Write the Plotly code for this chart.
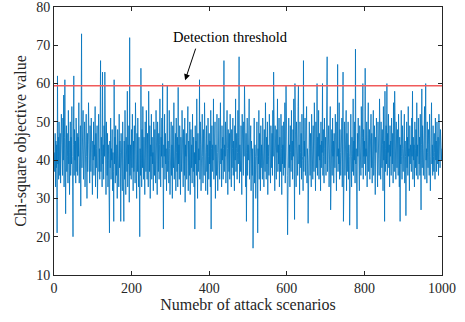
import plotly.graph_objects as go

values = [
    42, 37, 47, 33, 45, 38, 44, 21, 62, 39, 46, 35, 50, 41, 36, 47, 34, 44, 52, 38,
    43, 36, 51, 40, 57, 33, 46, 61, 38, 26, 44, 49, 37, 47, 41, 34, 53, 39, 45, 31,
    42, 50, 36, 46, 39, 54, 41, 33, 20, 44, 62, 36, 48, 40, 45, 34, 51, 42, 37, 47,
    36, 46, 41, 55, 34, 44, 39, 49, 28, 43, 73, 38, 47, 42, 53, 35, 45, 40, 50, 33,
    43, 38, 52, 41, 30, 47, 37, 44, 55, 39, 42, 34, 49, 43, 37, 51, 41, 46, 31, 45,
    40, 50, 36, 44, 41, 54, 33, 47, 38, 43, 49, 30, 45, 40, 52, 37, 43, 35, 48, 66,
    37, 46, 41, 33, 63, 39, 44, 35, 49, 41, 63, 37, 43, 31, 50, 42, 36, 47, 33, 44,
    40, 28, 21, 45, 38, 51, 35, 43, 40, 48, 32, 42, 37, 24, 61, 39, 46, 34, 49, 41,
    36, 44, 30, 48, 40, 43, 33, 52, 38, 45, 42, 24, 47, 37, 44, 32, 50, 39, 41, 24,
    45, 35, 53, 40, 31, 46, 42, 37, 58, 33, 44, 39, 49, 29, 72, 36, 44, 41, 35, 48,
    38, 52, 41, 32, 45, 37, 49, 43, 34, 55, 40, 44, 30, 47, 37, 51, 41, 33, 46, 39,
    20, 43, 36, 64, 41, 33, 48, 38, 54, 42, 35, 46, 39, 31, 50, 43, 37, 53, 41, 35,
    47, 40, 33, 58, 43, 37, 49, 30, 44, 41, 52, 35, 46, 39, 42, 32, 50, 43, 36, 48,
    41, 34, 53, 39, 45, 31, 50, 42, 37, 47, 35, 44, 56, 40, 33, 46, 41, 51, 38, 60,
    36, 22, 44, 41, 52, 35, 47, 39, 43, 32, 50, 59.6, 37, 45, 40, 34, 53, 43, 31, 46,
    40, 50, 36, 44, 30, 49, 41, 38, 55, 35, 43, 40, 47, 32, 51, 42, 37, 46, 33, 59,
    39, 44, 35, 49, 41, 31, 46, 43, 37, 53, 40, 45, 33, 48, 42, 36, 51, 29, 44, 41,
    47, 35, 43, 39, 54, 32, 45, 41, 36, 50, 31, 43, 48, 38, 44, 34, 52, 40, 37, 46,
    33, 42, 22, 49, 39, 45, 36, 56, 41, 30, 47, 37, 43, 40, 61, 35, 50, 44, 32, 43,
    38, 52, 41, 34, 48, 43, 36, 55, 40, 46, 32, 42, 49, 37, 44, 31, 51, 41, 35, 47,
    39, 45, 33, 53, 22, 43, 49, 37, 44, 40, 56, 35, 46, 40, 50, 30, 44, 41, 36, 52,
    42, 32, 47, 38, 51, 40, 35, 45, 55, 39, 43, 33, 49, 40, 46, 35, 43, 66, 37, 44,
    41, 50, 34, 46, 39, 53, 43, 31, 48, 41, 37, 47, 35, 52, 40, 44, 33, 48, 38, 43,
    51, 36, 45, 41, 32, 49, 40, 56, 37, 43, 47, 35, 42, 53, 39, 46, 67, 34, 44, 40,
    37, 49, 43, 31, 52, 40, 45, 36, 50, 41, 59.5, 38, 44, 33, 47, 24, 42, 51, 36, 44,
    40, 46, 56, 35, 43, 39, 49, 32, 45, 41, 36, 43, 17, 48, 38, 51, 34, 44, 41, 30,
    46, 37, 50, 41, 21, 43, 39, 53, 35, 47, 42, 32, 49, 38, 44, 41, 35, 51, 40, 45,
    33, 48, 43, 37, 55, 41, 35, 46, 39, 50, 31, 44, 41, 36, 52, 40, 45, 34, 49, 43,
    38, 47, 36, 53, 41, 63, 37, 43, 32, 49, 40, 45, 35, 48, 42, 56, 37, 44, 39, 51,
    33, 46, 41, 37, 52, 43, 31, 49, 39, 44, 36, 50, 41, 38, 55, 34, 45, 59.5, 40, 43,
    36, 20.5, 47, 41, 51, 38, 44, 33, 49, 42, 37, 53, 40, 45, 35, 48, 41, 56, 39, 24.5,
    60, 37, 43, 33, 50, 41, 46, 36, 54, 59.5, 39, 44, 31, 50, 42, 38, 47, 35, 52, 41,
    40, 32, 66, 37, 45, 41, 51, 36, 46, 39, 54, 34, 43, 40, 23.5, 48, 38, 50, 43, 36,
    47, 41, 33, 52, 39, 45, 35, 49, 42, 37, 55, 40, 44, 32, 50, 43, 38, 60, 36, 46,
    41, 53, 35, 47, 40, 44, 32, 50, 38, 45, 42, 60, 36, 48, 41, 34, 51, 43, 39, 46,
    36, 50, 41, 67, 37, 44, 40, 49, 33, 46, 42, 54, 27, 43, 39, 48, 36, 51, 41, 45,
    34, 47, 43, 38, 52, 40, 45, 32, 50, 41, 65, 37, 43, 39, 55, 35, 48, 42, 36, 46,
    41, 51, 33, 44, 63, 24, 45, 39, 50, 36, 43, 40, 53, 32, 47, 42, 37, 50, 35, 44,
    41, 23, 48, 38, 52, 41, 33, 46, 43, 37, 56, 36, 45, 40, 50, 34, 69, 39, 43, 36,
    22, 47, 41, 51, 37, 44, 32, 49, 40, 43, 36, 54, 42, 38, 46, 60, 35, 48, 41, 45,
    39, 64, 36, 43, 41, 50, 33, 46, 40, 55, 37, 43, 48, 35, 44, 41, 52, 38, 47, 34,
    45, 41, 53, 36, 43, 49, 39, 31, 46, 42, 51, 37, 44, 33, 50, 41, 43, 36, 56, 40,
    46, 35, 50, 41, 38, 48, 44, 32, 54, 40, 45, 24, 58, 37, 43, 49, 39, 60, 36, 47,
    42, 52, 38, 44, 33, 49, 41, 45, 36, 51, 41, 39, 47, 34, 55, 43, 37, 58, 40, 44,
    35, 50, 42, 38, 48, 44, 36, 52, 41, 33, 46, 24, 44, 39, 53, 41, 35, 49, 43, 37,
    47, 40, 52, 34, 45, 41, 25.5, 43, 50, 38, 46, 36, 54, 41, 43, 32, 49, 39, 44, 42,
    37, 51, 41, 58, 35, 46, 40, 44, 33, 50, 43, 38, 48, 36, 55, 41, 44, 35, 51, 42,
    39, 46, 36, 52, 41, 27, 44, 58.6, 38, 49, 43, 36, 47, 41, 54, 35, 45, 60, 40, 43,
    34, 50, 42, 38, 48, 44, 36, 52, 41, 32, 46, 43, 55, 39, 44, 36, 49, 41, 37, 47,
    42, 35, 51, 40, 45, 37, 50, 43, 39, 46, 36, 52, 41, 44, 38, 48, 42, 46, 40, 43,
]
scenarios = list(range(1, len(values) + 1))
threshold = 59.4
x_range = [0, 1000]
y_range = [10, 80]
x_ticks = [0, 200, 400, 600, 800, 1000]
y_ticks = [10, 20, 30, 40, 50, 60, 70, 80]

font_family = "Liberation Serif"
ink = "#262626"

fig = go.Figure()
fig.add_trace(go.Scatter(
    x=scenarios, y=values, mode="lines",
    line=dict(color="#0072BD", width=0.8),
    showlegend=False, hoverinfo="skip",
))
fig.add_trace(go.Scatter(
    x=x_range, y=[threshold, threshold], mode="lines",
    line=dict(color="rgb(240,90,90)", width=1.5),
    showlegend=False, hoverinfo="skip",
))

axis_common = dict(
    showline=True, linecolor=ink, linewidth=1, mirror="ticks",
    ticks="inside", ticklen=4, tickcolor=ink, tickwidth=1,
    showgrid=False, zeroline=False, automargin=False,
    tickfont=dict(family=font_family, size=14, color=ink),
)

fig.update_layout(
    width=465, height=322,
    margin=dict(l=54, r=23, t=7, b=47),
    paper_bgcolor="white", plot_bgcolor="white",
    font=dict(family=font_family, color=ink),
    xaxis=dict(range=x_range, tickvals=x_ticks, **axis_common,
               title=dict(text="Numebr of attack scenarios",
                          font=dict(family=font_family, size=16, color=ink),
                          standoff=3)),
    yaxis=dict(range=y_range, tickvals=y_ticks, **axis_common,
               ticklabeloverflow="allow",
               title=dict(text="Chi-square objective value",
                          font=dict(family=font_family, size=16, color=ink),
                          standoff=5)),
    annotations=[
        dict(x=338, y=60.9, xref="x", yref="y", text="", showarrow=True,
             ax=11, ay=-33, arrowhead=2, arrowsize=1.2, arrowwidth=1,
             arrowcolor="black"),
        dict(x=454, y=72.1, xref="x", yref="y", text="Detection threshold",
             showarrow=False, font=dict(family=font_family, size=14.5, color="black")),
    ],
)

fig.write_html("out.html")
